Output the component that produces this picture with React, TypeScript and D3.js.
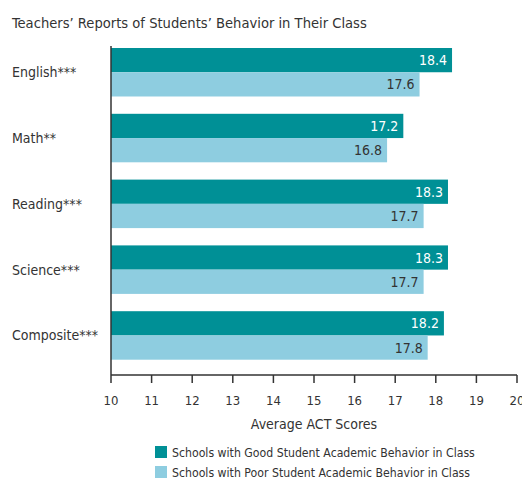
import React from "react";
import * as d3 from "d3";

const categories = ["English***", "Math**", "Reading***", "Science***", "Composite***"];
const goodValues = [18.4, 17.2, 18.3, 18.3, 18.2];
const poorValues = [17.6, 16.8, 17.7, 17.7, 17.8];
const tickValues = [10, 11, 12, 13, 14, 15, 16, 17, 18, 19, 20];
const seriesNames = [
  "Schools with Good Student Academic Behavior in Class",
  "Schools with Poor Student Academic Behavior in Class",
];
const title = "Teachers\u2019 Reports of Students\u2019 Behavior in Their Class";
const axisTitle = "Average ACT Scores";

const W = 522;
const H = 480;
const FONT = "'Liberation Sans Narrow', 'DejaVu Sans Condensed', 'Liberation Sans', sans-serif";
const DARK = "#009096";
const LIGHT = "#8ecde0";
const TEXT = "#333333";

export default function App() {
  const x = d3.scaleLinear().domain([10, 20]).range([111, 517]);
  const y = d3.scaleBand<string>().domain(categories).range([48, 359.7]).paddingInner(0.263).paddingOuter(0);
  const sub = d3.scaleBand<string>().domain(["good", "poor"]).range([0, y.bandwidth()]);
  const axisY = 375;

  return (
    <svg width={W} height={H} style={{ position: "absolute", left: 0, top: 0 }} fontFamily={FONT}>
      <rect width={W} height={H} fill="#fff" />
      <text x={12} y={28} fontSize={14.6} fill={TEXT}>{title}</text>
      {categories.map((c, i) => {
        const y0 = y(c)!;
        return (
          <g key={c}>
            <text x={12} y={y0 + y.bandwidth() / 2 + 5} fontSize={14} fill={TEXT}>{c}</text>
            <rect x={x(10)} y={y0 + sub("good")!} width={x(goodValues[i]) - x(10)} height={sub.bandwidth()} fill={DARK} />
            <rect x={x(10)} y={y0 + sub("poor")!} width={x(poorValues[i]) - x(10)} height={sub.bandwidth()} fill={LIGHT} />
            <text x={x(goodValues[i]) - 5} y={y0 + sub("good")! + sub.bandwidth() / 2 + 5} fontSize={14} fill="#fff" textAnchor="end">
              {goodValues[i].toFixed(1)}
            </text>
            <text x={x(poorValues[i]) - 5} y={y0 + sub("poor")! + sub.bandwidth() / 2 + 5} fontSize={14} fill={TEXT} textAnchor="end">
              {poorValues[i].toFixed(1)}
            </text>
          </g>
        );
      })}
      <line x1={x(10)} x2={x(10)} y1={46} y2={axisY} stroke={TEXT} strokeWidth={1.5} />
      <line x1={x(10)} x2={x(20)} y1={axisY} y2={axisY} stroke={TEXT} strokeWidth={1.5} />
      {tickValues.map((t) => (
        <g key={t}>
          <line x1={x(t)} x2={x(t)} y1={axisY} y2={axisY + 8} stroke={TEXT} strokeWidth={1.5} />
          <text x={x(t)} y={405} fontSize={13} fill={TEXT} textAnchor="middle">{t}</text>
        </g>
      ))}
      <text x={(x(10) + x(20)) / 2} y={429} fontSize={14} fill={TEXT} textAnchor="middle">{axisTitle}</text>
      {seriesNames.map((s, i) => (
        <g key={s}>
          <rect x={155} y={446 + i * 20} width={12} height={12} fill={i === 0 ? DARK : LIGHT} />
          <text x={172} y={457 + i * 20} fontSize={12.2} fill={TEXT}>{s}</text>
        </g>
      ))}
    </svg>
  );
}
